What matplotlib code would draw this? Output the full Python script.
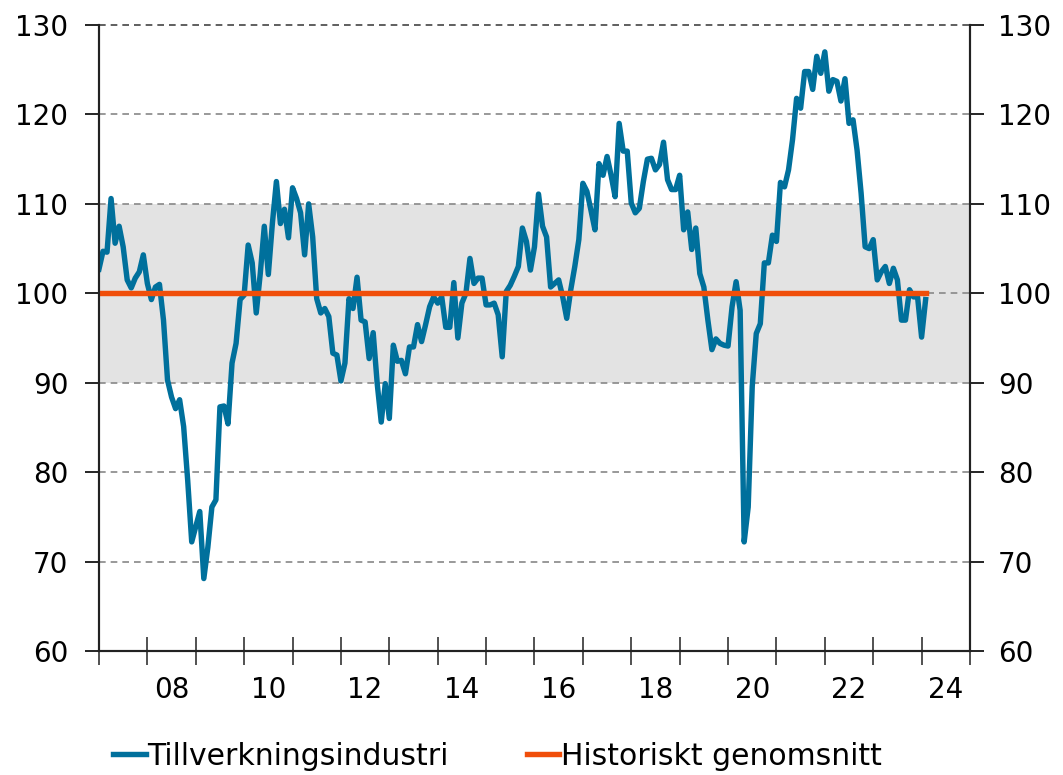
import numpy as np
import matplotlib.pyplot as plt

plt.rcParams.update({'font.size': 20, 'font.family': 'DejaVu Sans'})

# Månadsdata, jan 2007 - feb 2024
start_year = 2007
v_2007_2010 = [102.7, 104.7, 104.6, 110.6, 105.6, 107.5, 105.2, 101.5, 100.6, 101.7, 102.4, 104.3,
               101.1, 99.3, 100.7, 101.0, 97.0, 90.3, 88.4, 87.1, 88.1, 85.1, 79.1, 72.2,
               73.9, 75.6, 68.1, 71.6, 76.1, 76.9, 87.3, 87.4, 85.4, 92.2, 94.4, 99.3,
               99.8, 105.4, 103.4, 97.8, 102.2, 107.5, 102.1, 107.8, 112.5, 107.8, 109.4, 106.2]
v_2011_2014 = [111.8, 110.6, 109.0, 104.3, 110.0, 106.3, 99.4, 97.8, 98.3, 97.4, 93.3, 93.1,
               90.2, 92.2, 99.4, 98.3, 101.8, 97.0, 96.8, 92.7, 95.6, 89.9, 85.6, 89.9,
               86.0, 94.2, 92.4, 92.5, 91.0, 94.0, 94.0, 96.5, 94.6, 96.5, 98.5, 99.6,
               98.9, 99.6, 96.2, 96.2, 101.2, 95.0, 98.9, 100.0, 103.9, 101.1, 101.7, 101.7]
v_2015_2018 = [98.7, 98.7, 98.9, 97.6, 92.9, 100.2, 100.9, 101.9, 103.0, 107.3, 105.8, 102.6,
               105.2, 111.1, 107.5, 106.3, 100.7, 101.1, 101.5, 99.6, 97.2, 100.4, 103.0, 106.0,
               112.3, 111.4, 109.3, 107.1, 114.5, 113.2, 115.3, 113.2, 110.8, 119.0, 115.9, 115.9,
               110.1, 109.0, 109.5, 112.5, 115.0, 115.1, 113.8, 114.4, 116.9, 112.7, 111.6, 111.6]
v_2019_2022 = [113.2, 107.1, 109.1, 104.9, 107.3, 102.2, 100.7, 97.0, 93.7, 94.9, 94.4, 94.2,
               94.1, 98.5, 101.3, 98.1, 72.2, 76.1, 89.6, 95.5, 96.6, 103.4, 103.4, 106.5,
               105.8, 112.4, 111.9, 113.8, 117.2, 121.8, 120.7, 124.8, 124.8, 122.8, 126.5, 124.6,
               127.0, 122.6, 123.9, 123.7, 121.5, 124.0, 119.0, 119.4, 116.0, 111.2, 105.2, 105.0]
v_2023_2024 = [106.0, 101.5, 102.4, 103.0, 101.1, 102.8, 101.5, 97.0, 97.0, 100.4, 99.6, 99.6,
               95.1, 99.3]

pmi = np.array(v_2007_2010 + v_2011_2014 + v_2015_2018 + v_2019_2022 + v_2023_2024)
snitt = 100
band = (90, 110)

years = np.arange(2007, 2026)
year_labels = ['08', '10', '12', '14', '16', '18', '20', '22', '24']

blue = '#00709C'
orange = '#F04E0A'

t = start_year + np.arange(len(pmi)) / 12

fig = plt.figure(figsize=(10.63, 7.75), dpi=100)
ax = fig.add_axes([0.0931, 0.16, 0.8194, 0.8077])

ax.axhspan(band[0], band[1], color='#E3E3E3', zorder=0, lw=0)
for y in [70, 80, 90, 100, 110, 120]:
    ax.axhline(y, color='#888888', ls=(0, (4, 3)), lw=1.2, zorder=1)
ax.axhline(130, color='#444444', ls=(0, (4, 3)), lw=1.2, zorder=1, clip_on=False)

ax.plot(t, pmi, color=blue, lw=3.9, zorder=3, solid_joinstyle='round',
        label='Tillverkningsindustri')
ax.plot([t[0], t[-1]], [snitt, snitt], color=orange, lw=3.9, zorder=4,
        label='Historiskt genomsnitt')

ax.set_xlim(years[0], years[-1])
ax.set_ylim(60, 130)
ax.set_yticks(np.arange(60, 131, 10))

ax.set_xticks(years)
ax.set_xticklabels([])
ax.set_xticks([int('20' + s) + 0.5 for s in year_labels], minor=True)
ax.set_xticklabels(year_labels, minor=True)
ax.tick_params(axis='x', which='major', direction='inout', length=20, width=1.2, color='#333333')
ax.tick_params(axis='x', which='minor', length=0, pad=18)
ax.tick_params(axis='y', direction='out', length=10, width=1.2, pad=12)

ax2 = ax.twinx()
ax2.set_ylim(ax.get_ylim())
ax2.set_yticks(np.arange(60, 131, 10))
ax2.tick_params(axis='y', direction='out', length=10, width=1.2, pad=10)

for a in (ax, ax2):
    a.spines['top'].set_visible(False)
    for s in ('left', 'right', 'bottom'):
        a.spines[s].set_linewidth(1.5)
        a.spines[s].set_color('#222222')

fig.legend(*ax.get_legend_handles_labels(), loc='center', bbox_to_anchor=(0.468, 0.024),
           ncol=2, frameon=False, handlelength=1.1, handletextpad=0.05,
           columnspacing=2.6, fontsize=21.5)

plt.savefig('out.png', dpi=100)
